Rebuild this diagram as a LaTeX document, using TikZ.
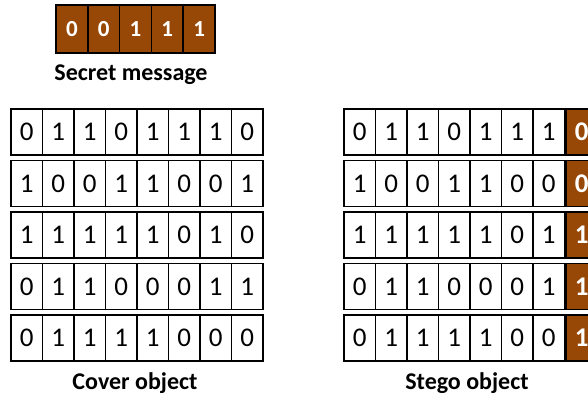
\documentclass[tikz,border=0pt]{standalone}
\usepackage{fontspec}
\setmainfont{Carlito}
\usepackage{tikz}
\usetikzlibrary{positioning}

\definecolor{bitbrown}{RGB}{151,71,6}

\begin{document}
\begin{tikzpicture}[
                x=1pt, y=-1pt,
                cell/.style={draw=black, line width=1.5pt, minimum width=31.5pt, minimum height=46pt, inner sep=0pt, font=\fontsize{27}{27}\selectfont},
                hid/.style={cell, fill=bitbrown, text=white, font=\fontsize{27}{27}\selectfont\bfseries},
                sec/.style={hid, minimum width=31.8pt, minimum height=48pt, font=\fontsize{23}{23}\selectfont\bfseries},
                lbl/.style={font=\fontsize{24}{24}\selectfont\bfseries},
            ]
            \clip (0,0) rectangle (588,395);
            % --- secret message ---
            \foreach \b [count=\i] in {0,0,1,1,1}
                \node[sec] (s\i) at ({56+31.8*(\i-0.5)}, 29) {\b};
            \node[lbl] (secret) at (131, 75) {Secret message};
            % --- cover object ---
            \foreach \row [count=\r] in {{0,1,1,0,1,1,1,0},{1,0,0,1,1,0,0,1},{1,1,1,1,1,0,1,0},{0,1,1,0,0,0,1,1},{0,1,1,1,1,0,0,0}}
                \foreach \b [count=\c] in \row
                    \node[cell] (c\r\c) at ({11+31.5*(\c-0.5)}, {132+51.5*(\r-1)}) {\b};
            \node[lbl] (cover) at (135, 383) {Cover object};
            % --- stego object (last bit replaced) ---
            \foreach \row [count=\r] in {{0,1,1,0,1,1,1},{1,0,0,1,1,0,0},{1,1,1,1,1,0,1},{0,1,1,0,0,0,1},{0,1,1,1,1,0,0}}
                \foreach \b [count=\c] in \row
                    \node[cell] (g\r\c) at ({344+31.5*(\c-0.5)}, {132+51.5*(\r-1)}) {\b};
            \foreach \b [count=\r] in {0,0,1,1,1}
                \node[hid, right=0pt of g\r7] (g\r8) {\b};
            \node[lbl] (stego) at (467, 383) {Stego object};
        \end{tikzpicture}
\end{document}
